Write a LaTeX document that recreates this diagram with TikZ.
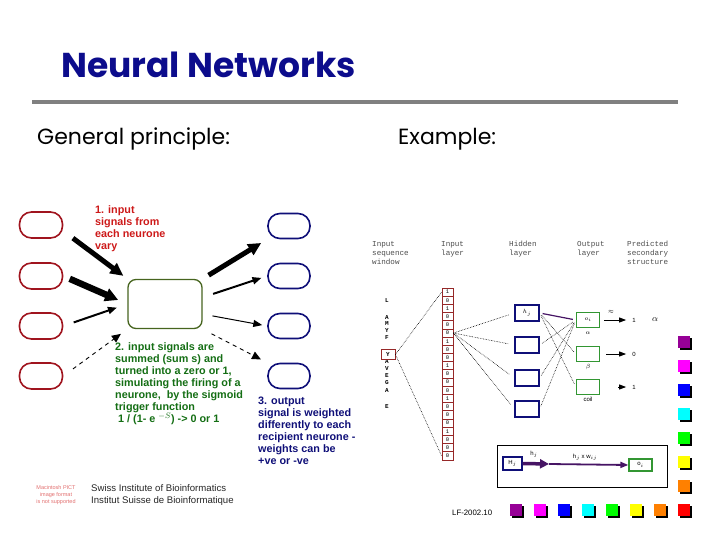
\documentclass[tikz,border=0pt]{standalone}
\usepackage{fontspec}
\usepackage{tikz}
\usetikzlibrary{arrows.meta,positioning}
\setmainfont{Liberation Sans}
\newfontfamily\comicfont{Poppins}
\newfontfamily\monofont{Liberation Mono}
\newcommand\fsz[2]{\fontsize{#1}{#2}\selectfont}
\definecolor{titleblue}{RGB}{12,12,140}
\definecolor{rulegray}{RGB}{128,128,128}
\definecolor{ovalred}{RGB}{160,20,30}
\definecolor{cellgreen}{RGB}{70,100,30}
\definecolor{navy}{RGB}{15,15,120}
\definecolor{txtred}{RGB}{205,25,25}
\definecolor{txtgreen}{RGB}{20,110,20}
\definecolor{pictred}{RGB}{225,110,110}
\definecolor{boxred}{RGB}{150,40,40}
\definecolor{boxgreen}{RGB}{50,150,50}
\definecolor{wpurple}{RGB}{70,20,100}
\definecolor{chpurple}{RGB}{150,0,150}
\definecolor{chmagenta}{RGB}{255,0,255}
\definecolor{chblue}{RGB}{0,0,255}
\definecolor{chcyan}{RGB}{0,255,255}
\definecolor{chgreen}{RGB}{0,255,0}
\definecolor{chyellow}{RGB}{255,255,0}
\definecolor{chorange}{RGB}{255,128,0}
\definecolor{chred}{RGB}{255,0,0}

\begin{document}
\begin{tikzpicture}[x=1pt,y=-1pt]
\tikzstyle{every node}+=[inner sep=0pt]
\tikzstyle{sender}=[draw=ovalred, line width=1.6pt, rounded corners=12pt, minimum width=43pt, minimum height=26pt]
\tikzstyle{receiver}=[draw=navy, line width=1.6pt, rounded corners=12pt, minimum width=42pt, minimum height=25pt]
\tikzstyle{fat}=[line width=5pt, -{Triangle[length=13pt,width=12pt]}]
\tikzstyle{fatter}=[line width=6.5pt, -{Triangle[length=13pt,width=13pt]}]
\tikzstyle{medsig}=[line width=2pt, -{Triangle[length=9pt,width=7pt]}]
\tikzstyle{thinsig}=[line width=1pt, -{Triangle[length=9pt,width=7pt]}]
\tikzstyle{dashsig}=[line width=0.9pt, dash pattern=on 4pt off 4pt, -{Triangle[length=9pt,width=8pt]}]
\tikzstyle{note}=[anchor=north west, align=left, font=\bfseries\fsz{10.8}{12}]
\tikzstyle{hdr}=[anchor=north west, align=left, font=\monofont\fsz{7.6}{9}, text=black!70]
\tikzstyle{aa}=[font=\monofont\bfseries\fsz{6}{6}]
\tikzstyle{bit}=[draw=boxred, line width=0.8pt, minimum width=11pt, minimum height=8.19pt, font=\monofont\fsz{5.5}{5.5}]
\tikzstyle{wire}=[densely dotted, line width=0.6pt]
\tikzstyle{hidbox}=[draw=navy, line width=1.3pt, minimum width=24pt, minimum height=16pt, font=\fsz{6}{6}]
\tikzstyle{outbox}=[draw=boxgreen, line width=1.3pt, minimum width=23pt, minimum height=15pt, font=\fsz{6}{6}]
\tikzstyle{tiny}=[font=\fsz{6}{6}]
\tikzstyle{predarrow}=[line width=0.9pt, -{Triangle[length=7pt,width=5pt]}]
\useasboundingbox (0,0) rectangle (720,540);

% title and headings
\node[anchor=west, font=\comicfont\bfseries\fsz{34.5}{38}, text=titleblue] (title) at (61,65) {Neural Networks};
\draw[line width=4pt, rulegray] (32,102) -- (678,102);
\node[anchor=base west, font=\comicfont\fsz{22}{26}] (general) at (37,145) {General principle:};
\node[anchor=base west, font=\comicfont\fsz{22}{26}] (example) at (398,145) {Example:};

% general principle
\node[sender] (in1) at (41,225) {};
\node[sender] (in2) at (41,276) {};
\node[sender] (in3) at (41,326) {};
\node[sender] (in4) at (41,376) {};
\node[draw=cellgreen, line width=1.3pt, rounded corners=8pt, minimum width=74pt, minimum height=49pt] (cell) at (165,304) {};
\node[receiver] (rec1) at (289,226) {};
\node[receiver] (rec2) at (289,276) {};
\node[receiver] (rec3) at (289,326) {};
\node[receiver] (rec4) at (289,376) {};

\draw[fat, shorten <=12pt, shorten >=5pt] (in1.-15) -- (cell.north west);
\draw[fatter, shorten <=7pt, shorten >=10pt] (in2.east) -- (cell.west);
\draw[medsig, shorten <=11pt, shorten >=11pt] (in3.east) -- (cell.west);
\draw[dashsig, shorten <=12pt, shorten >=8pt] (in4.east) -- (cell.south west);
\draw[fat, shorten <=7pt, shorten >=7pt] (cell.north east) -- (rec1.south west);
\draw[medsig, shorten <=11pt, shorten >=6pt] (cell.10) -- (rec2.west);
\draw[thinsig, shorten <=10pt, shorten >=5pt] (cell.-15) -- (rec3.west);
\draw[dashsig, shorten <=10pt, shorten >=7pt] (cell.south east) -- (rec4.north west);

\node[note, text=txtred] (vary) at (95,205) {1. input\\signals from\\each neurone\\vary};
\node[note, text=txtgreen] (summed) at (115,342) {2. input signals are\\summed (sum s) and\\turned into a zero or 1,\\simulating the firing of a\\neurone,\ \ by the sigmoid\\trigger function\\\ 1 / (1- e $^{-S}$) -> 0 or 1};
\node[note, text=navy] (weighted) at (258,397) {3. output\\signal is weighted\\differently to each\\recipient neurone -\\weights can be\\+ve or -ve};

% example network
\node[hdr] (hseq) at (372,241) {Input\\sequence\\window};
\node[hdr] (hinp) at (441,241) {Input\\layer};
\node[hdr] (hhid) at (509,241) {Hidden\\layer};
\node[hdr] (hout) at (577,241) {Output\\layer};
\node[hdr] (hpred) at (627,241) {Predicted\\secondary\\structure};

\foreach \y/\l [count=\i] in {301/L,318/A,324/M,331/Y,338/F,362/A,369/V,376/E,383/G,391/A,407/E}
  \node[aa] (aa\i) at (387,\y) {\l};
\node[aa, draw=boxred, line width=0.9pt, minimum width=14pt, minimum height=10pt] (res) at (388,354.5) {Y};

\foreach \d [count=\i] in {1,0,1,0,0,0,1,0,0,1,0,0,0,1,0,0,0,1,0,0,0}
  \node[bit] (inp\i) at (447.5,283.9+8.19*\i) {\d};
\draw[wire] (res.east) -- (inp1.west);
\draw[wire] (res.east) -- (inp21.west);

\node[hidbox] (hid1) at (527,313) {$h_j$};
\node[hidbox] (hid2) at (527,345) {};
\node[hidbox] (hid3) at (527,378) {};
\node[hidbox] (hid4) at (527,409) {};
\foreach \j in {1,...,4}
  \draw[wire, shorten >=6pt] (inp6.east) -- (hid\j.west);

\node[outbox] (opt1) at (588,320) {$o_i$};
\node[outbox] (opt2) at (588,354) {};
\node[outbox] (opt3) at (588,387) {};
\node[tiny] (lalpha) at (588,333) {$\alpha$};
\node[tiny] (lbeta) at (588,367) {$\beta$};
\node[tiny] (lcoil) at (588,399) {coil};

\draw[wpurple, line width=1.2pt, shorten <=3pt, shorten >=3pt] (hid1.east) -- (opt1.west);
\draw[wire, shorten <=3pt, shorten >=3pt] (hid1.east) -- (opt2.west);
\draw[wire, shorten <=3pt, shorten >=3pt] (hid1.east) -- (opt3.west);
\draw[wire, shorten <=3pt, shorten >=3pt] (hid2.east) -- (opt1.west);
\draw[wire, shorten <=3pt, shorten >=3pt] (hid3.east) -- (opt1.west);
\draw[wire, shorten <=3pt, shorten >=3pt] (hid4.east) -- (opt1.west);

\node[tiny] (p1) at (634,320) {1};
\node[tiny] (p2) at (634,354) {0};
\node[tiny] (p3) at (634,387) {1};
\node[font=\fsz{9}{9}] (palpha) at (655,320) {$\alpha$};
\node[tiny] (approx) at (611,312) {$\approx$};
\draw[predarrow, shorten <=4pt, shorten >=6pt] (opt1.east) -- (p1.west);
\draw[predarrow, shorten <=6pt, shorten >=6pt] (opt2.east) -- (p2.west);
\draw[predarrow, shorten <=18pt, shorten >=6pt] (opt3.east) -- (p3.west);

% weight inset
\node[draw, line width=0.8pt, minimum width=170pt, minimum height=42pt] (inset) at (582,466) {};
\node[hidbox, minimum width=19pt, minimum height=13pt] (hj) at (512.5,463.5) {H$_j$};
\node[outbox, minimum width=23pt, minimum height=12pt] (oi) at (640.5,465) {o$_i$};
\coordinate (wj) at (549,464);
\draw[wpurple, line width=3.5pt, -{Triangle[length=9pt,width=9pt]}] (hj.east) -- (wj);
\draw[wpurple, line width=1.8pt, -{Triangle[length=8pt,width=6pt]}] (wj) -- (oi.west);
\node[tiny] (sj) at (534,454) {h$_j$};
\node[tiny] (hw) at (585,457) {h$_j$ x w$_{ij}$};

% footer
\node[align=center, font=\fsz{5.5}{6.8}, text=pictred] (pict) at (56,495) {Macintosh PICT\\image format\\is not supported};
\node[anchor=north west, align=left, font=\fsz{9.6}{12.5}, text=black!85] (sib) at (91,484) {Swiss Institute of Bioinformatics\\Institut Suisse de Bioinformatique};
\node[anchor=west, font=\fsz{7.8}{9}] (lf) at (452,513) {LF-2002.10};

% colour chips
\foreach \c [count=\k from 0] in {chpurple,chmagenta,chblue,chcyan,chgreen,chyellow,chorange,chred} {
  \fill[black] (512+24*\k,506) rectangle +(12,12);
  \fill[\c] (510+24*\k,504) rectangle +(12,12);
}
\foreach \c [count=\k from 0] in {chpurple,chmagenta,chblue,chcyan,chgreen,chyellow,chorange} {
  \fill[black] (680,338+24*\k) rectangle +(12,12);
  \fill[\c] (678,336+24*\k) rectangle +(12,12);
}
\end{tikzpicture}
\end{document}
